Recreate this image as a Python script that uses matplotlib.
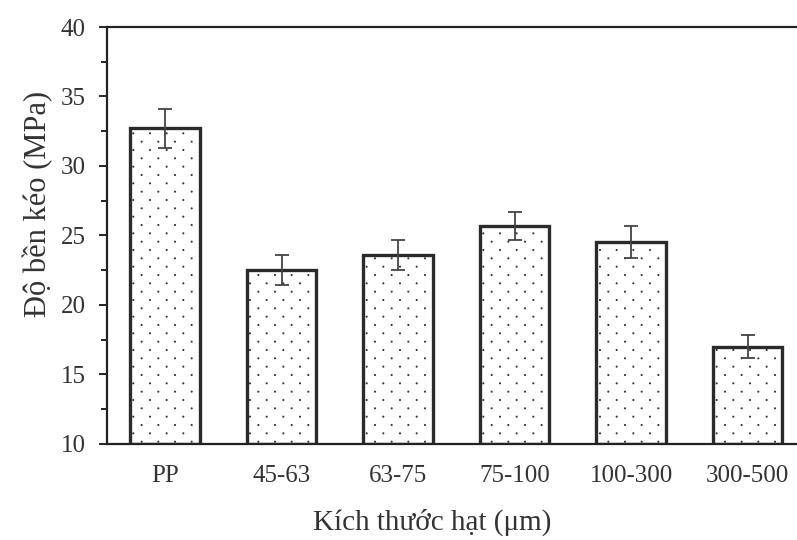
import matplotlib.pyplot as plt
import matplotlib.hatch as mhatch
from matplotlib.path import Path
import numpy as np

plt.rcParams['font.family'] = ['Liberation Serif', 'DejaVu Serif']
plt.rcParams['hatch.linewidth'] = 0.9

categories = ['PP', '45-63', '63-75', '75-100', '100-300', '300-500']
strength = [32.7, 22.5, 23.6, 25.7, 24.5, 17.0]
err = [1.4, 1.1, 1.1, 1.0, 1.15, 0.85]


# dotted fill like the scan: rows twice as close as the columns, staggered
class StaggeredDots(mhatch.HatchPatternBase):
    def __init__(self, hatch, density):
        ncol = hatch.count('.') * density
        nrow = 2 * ncol
        circ = Path.unit_circle()
        self.sv = circ.vertices
        self.sc = circ.codes
        self.pts = []
        for r in range(nrow + 1):
            if r % 2 == 0:
                cols = np.linspace(0, 1, ncol + 1)
            else:
                cols = np.linspace(0.5 / ncol, 1 - 0.5 / ncol, ncol)
            for c in cols:
                self.pts.append((c, r / nrow))
        self.num_vertices = len(self.pts) * len(self.sv) if ncol else 0

    def set_vertices_and_codes(self, vertices, codes):
        rad = 0.004
        np.concatenate([self.sv * rad + p for p in self.pts], out=vertices)
        np.concatenate([self.sc] * len(self.pts), out=codes)


mhatch._hatch_types[mhatch._hatch_types.index(mhatch.SmallFilledCircles)] = StaggeredDots

fig = plt.figure(figsize=(7.97, 5.4), dpi=100)
ax = fig.add_axes([0.134, 0.178, 0.877, 0.772])

x = np.arange(len(categories))
ax.bar(x, np.array(strength) - 10, bottom=10, width=0.6, color='white',
       edgecolor='#2b2b2b', linewidth=2.4, hatch='.', zorder=2)
ax.errorbar(x, strength, yerr=err, fmt='none', ecolor='#444444',
            elinewidth=1.3, capsize=5, capthick=1.3, zorder=3)

ax.set_xlim(-0.5, 5.5)
ax.set_ylim(10, 40)
ax.set_yticks(range(10, 41, 5))
ax.set_yticks(np.arange(12.5, 40, 5), minor=True)
ax.set_xticks(x)
ax.set_xticklabels(categories)
ax.tick_params(axis='x', length=0, pad=15, labelsize=18, labelcolor='#333333')
ax.tick_params(axis='y', which='major', length=6, width=1.2, direction='out',
               labelsize=18, labelcolor='#333333', pad=9)
ax.tick_params(axis='y', which='minor', length=4, width=1.2, direction='out')

for s in ['left', 'bottom', 'top']:
    ax.spines[s].set_linewidth(1.6)
    ax.spines[s].set_color('#222222')
ax.spines['right'].set_visible(False)

ax.set_ylabel('Độ bền kéo (MPa)', fontsize=22, color='#333333')
ax.yaxis.set_label_coords(-0.077, 0.575)
fig.text(0.542, 0.032, 'Kích thước hạt (μm)', ha='center', va='center',
         fontsize=21, color='#333333')

fig.savefig('out.png', dpi=100)
